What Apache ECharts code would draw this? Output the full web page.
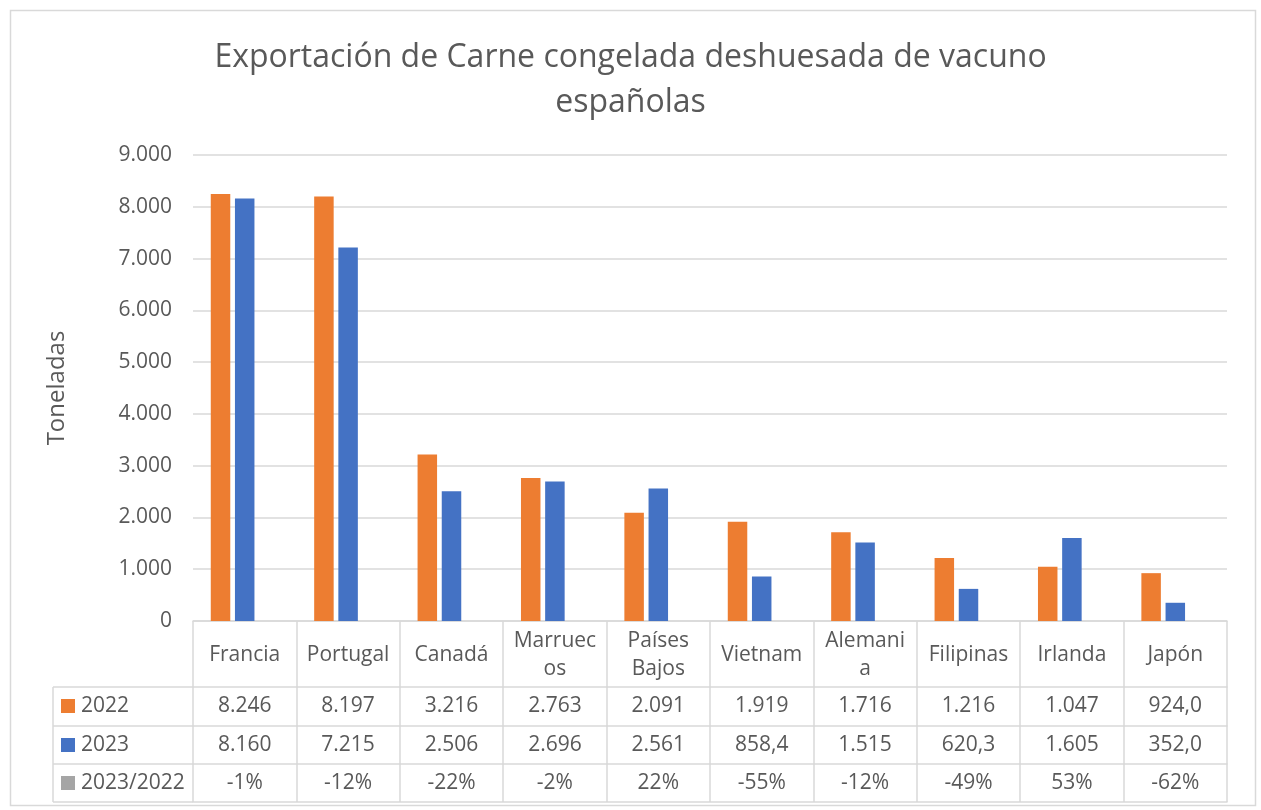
<!DOCTYPE html>
<html>
<head>
<meta charset="utf-8">
<title>Exportación de Carne congelada deshuesada de vacuno españolas</title>
<script src="https://cdn.jsdelivr.net/npm/echarts@6/dist/echarts.min.js"></script>
<style>
  html, body { margin: 0; padding: 0; background: #fff; }
  #chart { width: 1261px; height: 810px; }
</style>
</head>
<body>
<div id="chart"></div>
<script>
const categories = ['Francia', 'Portugal', 'Canadá', 'Marruecos', 'Países Bajos', 'Vietnam', 'Alemania', 'Filipinas', 'Irlanda', 'Japón']
// rótulos tal como se ven cortados en la tabla
const categoryLabels = ['Francia', 'Portugal', 'Canadá', 'Marruec\nos', 'Países\nBajos', 'Vietnam', 'Alemani\na', 'Filipinas', 'Irlanda', 'Japón']
const values2022 = [8246, 8197, 3216, 2763, 2091, 1919, 1716, 1216, 1047, 924.0]
const values2023 = [8160, 7215, 2506, 2696, 2561, 858.4, 1515, 620.3, 1605, 352.0]
const ratioPct = [-1, -12, -22, -2, 22, -55, -12, -49, 53, -62]
const yTicks = ['0', '1.000', '2.000', '3.000', '4.000', '5.000', '6.000', '7.000', '8.000', '9.000']

const FONT = '"Open Sans", "Noto Sans", sans-serif'
const TXT = '#595959'
const LINE = '#D9D9D9'
const ORANGE = '#ED7D31'
const BLUE = '#4472C4'
const GRAY = '#A5A5A5'
const TABLE_FS = 21

const fmt = (v) => {
  if (v >= 1000) {
    return String(Math.round(v)).replace(/\B(?=(\d{3})+(?!\d))/g, '.')
  }
  return v.toFixed(1).replace('.', ',')
}

// filas de la tabla: posición de la línea superior respecto al eje (px)
const rowAxis = (offset, labels) => ({
  type: 'category',
  data: categories,
  position: 'bottom',
  offset: offset,
  axisLine: { show: true, lineStyle: { color: LINE, width: 1.5 } },
  axisTick: { show: false },
  axisLabel: {
    interval: 0,
    margin: 19,
    verticalAlign: 'middle',
    color: TXT,
    fontFamily: FONT,
    fontSize: TABLE_FS,
    formatter: (val, i) => labels[i]
  }
})

const chart = echarts.init(document.getElementById('chart'), null, { renderer: 'canvas' })

const legendRow = (y, color, text) => [
  { type: 'rect', shape: { x: 61, y: y - 7, width: 14, height: 14 }, style: { fill: color } },
  { type: 'text', x: 81, y: y, style: { text: text, fill: TXT, font: TABLE_FS + 'px ' + FONT, verticalAlign: 'middle' } }
]

chart.setOption({
  animation: false,
  title: {
    text: 'Exportación de Carne congelada deshuesada de vacuno\nespañolas',
    left: 'center',
    top: 30,
    textStyle: { color: TXT, fontFamily: FONT, fontSize: 32, fontWeight: 'normal', lineHeight: 45 }
  },
  grid: { left: 193, right: 34, top: 155, bottom: 189 },
  yAxis: {
    type: 'value',
    min: 0,
    max: 9000,
    interval: 1000,
    name: 'Toneladas',
    nameLocation: 'middle',
    nameGap: 124,
    nameTextStyle: { color: TXT, fontFamily: FONT, fontSize: 24 },
    axisLine: { show: false },
    axisTick: { show: false },
    splitLine: { lineStyle: { color: LINE, width: 1.5 } },
    axisLabel: {
      color: TXT,
      fontFamily: FONT,
      fontSize: 21,
      margin: 21,
      formatter: (v) => yTicks[Math.round(v / 1000)]
    }
  },
  xAxis: [
    {
      type: 'category',
      data: categories,
      position: 'bottom',
      axisLine: { lineStyle: { color: LINE, width: 1.5 } },
      axisTick: { show: true, interval: 0, length: 181, lineStyle: { color: LINE, width: 1.5 } },
      axisLabel: {
        interval: 0,
        margin: 34,
        verticalAlign: 'middle',
        lineHeight: 28,
        color: TXT,
        fontFamily: FONT,
        fontSize: TABLE_FS,
        formatter: (val, i) => categoryLabels[i]
      }
    },
    rowAxis(66, values2022.map(fmt)),
    rowAxis(105, values2023.map(fmt)),
    rowAxis(143, ratioPct.map((v) => v + '%')),
    {
      type: 'category',
      data: categories,
      position: 'bottom',
      offset: 181,
      axisLine: { show: true, lineStyle: { color: LINE, width: 1.5 } },
      axisTick: { show: false },
      axisLabel: { show: false }
    }
  ],
  series: [
    { name: '2022', type: 'bar', data: values2022, barWidth: 19.5, barGap: '24%', itemStyle: { color: ORANGE } },
    { name: '2023', type: 'bar', data: values2023, barWidth: 19.5, barGap: '24%', itemStyle: { color: BLUE } },
    { name: '2023/2022', type: 'bar', data: ratioPct.map((v) => v / 100), barWidth: 19.5, barGap: '24%', itemStyle: { color: GRAY } }
  ],
  graphic: [
    // marco exterior
    { type: 'rect', shape: { x: 10.5, y: 10.5, width: 1245, height: 795 }, style: { fill: 'none', stroke: LINE, lineWidth: 1.5 } },
    // columna de leyenda de la tabla
    { type: 'line', shape: { x1: 53, y1: 687, x2: 193, y2: 687 }, style: { stroke: LINE, lineWidth: 1.5 } },
    { type: 'line', shape: { x1: 53, y1: 726, x2: 193, y2: 726 }, style: { stroke: LINE, lineWidth: 1.5 } },
    { type: 'line', shape: { x1: 53, y1: 764, x2: 193, y2: 764 }, style: { stroke: LINE, lineWidth: 1.5 } },
    { type: 'line', shape: { x1: 53, y1: 802, x2: 193, y2: 802 }, style: { stroke: LINE, lineWidth: 1.5 } },
    { type: 'line', shape: { x1: 53, y1: 687, x2: 53, y2: 802 }, style: { stroke: LINE, lineWidth: 1.5 } },
    ...legendRow(706, ORANGE, '2022'),
    ...legendRow(745, BLUE, '2023'),
    ...legendRow(783, GRAY, '2023/2022')
  ]
})
</script>
</body>
</html>
